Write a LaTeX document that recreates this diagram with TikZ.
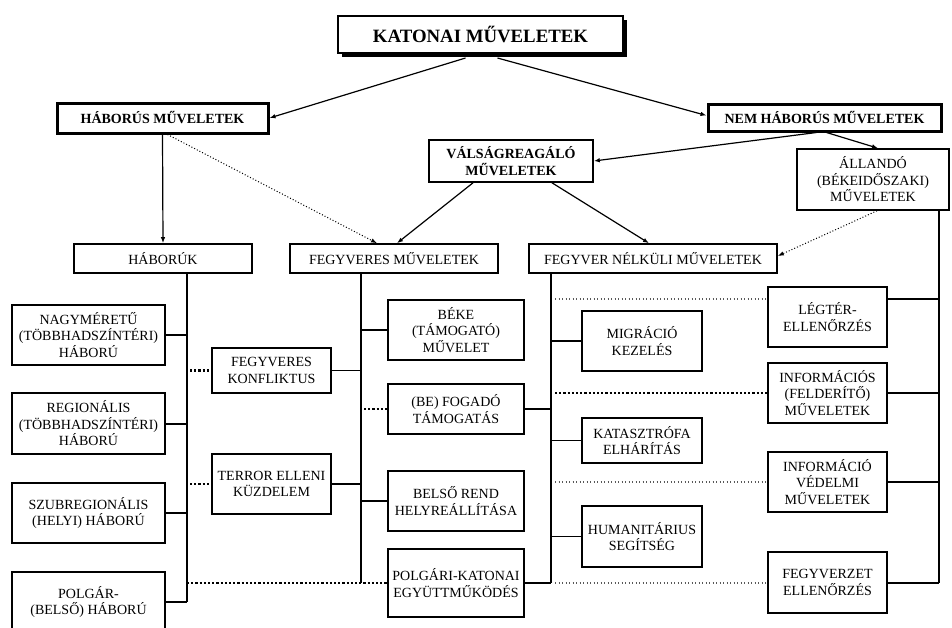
\documentclass[tikz,border=0pt]{standalone}
\usepackage{fontspec}
\setmainfont{Liberation Serif}
\usetikzlibrary{arrows.meta,shadows}
\begin{document}
\begin{tikzpicture}[x=1pt,y=-1pt,
  box/.style={draw, line width=1.6pt, fill=white, align=center, inner sep=0pt, font=\fontsize{14}{16.5}\selectfont},
  bbox/.style={box, font=\bfseries\fontsize{14}{16.5}\selectfont},
  conn/.style={line width=1.4pt},
  trunk/.style={line width=2pt},
  arr/.style={line width=1.2pt, -{Latex[length=6pt,width=4.5pt]}},
  darr/.style={line width=1pt, dash pattern=on 1pt off 2pt, -{Latex[length=6pt,width=4.5pt]}},
  tdot/.style={line width=2.4pt, dash pattern=on 2.2pt off 2pt},
  fdot/.style={line width=1.3pt, dash pattern=on 1.3pt off 2.2pt, black!65},
]
\useasboundingbox (0,0) rectangle (952,627);
\clip (0,0) rectangle (952,627);

% top level
\node[box, line width=2pt, minimum width=285pt, minimum height=37pt,
      font=\bfseries\fontsize{18.8}{22}\selectfont,
      drop shadow={shadow xshift=4pt, shadow yshift=-4pt, fill=black, opacity=1}]
      (kat) at (480.5,34.5) {KATONAI MŰVELETEK};
\node[bbox, line width=3pt, minimum width=211pt, minimum height=30pt] (habm) at (162.5,118) {HÁBORÚS MŰVELETEK};
\node[bbox, line width=3pt, minimum width=233pt, minimum height=27pt] (nem) at (824.5,117.5) {NEM HÁBORÚS MŰVELETEK};
\node[bbox, minimum width=164pt, minimum height=42pt] (vals) at (511,161) {VÁLSÁGREAGÁLÓ\\MŰVELETEK};
\node[box, minimum width=152pt, minimum height=61pt] (all) at (873,179.5) {ÁLLANDÓ\\(BÉKEIDŐSZAKI)\\MŰVELETEK};

% second row
\node[box, minimum width=178pt, minimum height=29pt] (hab) at (163,258.5) {HÁBORÚK};
\node[box, minimum width=208pt, minimum height=29pt] (fm) at (394,258.5) {FEGYVERES MŰVELETEK};
\node[box, minimum width=248pt, minimum height=29pt] (fnm) at (653,258.5) {FEGYVER NÉLKÜLI MŰVELETEK};

% left column
\node[box, line width=1.8pt, minimum width=153pt, minimum height=60pt] (nagy) at (88.5,335) {NAGYMÉRETŰ\\(TÖBBHADSZÍNTÉRI)\\HÁBORÚ};
\node[box, line width=1.8pt, minimum width=153pt, minimum height=61pt] (reg) at (88.5,423.5) {REGIONÁLIS\\(TÖBBHADSZÍNTÉRI)\\HÁBORÚ};
\node[box, line width=1.8pt, minimum width=153pt, minimum height=60pt] (szub) at (88.5,513) {SZUBREGIONÁLIS\\(HELYI) HÁBORÚ};
\node[box, line width=1.8pt, minimum width=153pt, minimum height=60pt] (polg) at (88.5,602) {POLGÁR-\\(BELSŐ) HÁBORÚ};

\node[box, minimum width=119pt, minimum height=45pt] (konf) at (271.5,370.5) {FEGYVERES\\KONFLIKTUS};
\node[box, minimum width=119pt, minimum height=60pt] (terr) at (271.5,484) {TERROR ELLENI\\KÜZDELEM};

% middle column
\node[box, minimum width=136pt, minimum height=60pt] (beke) at (456,330) {BÉKE\\(TÁMOGATÓ)\\MŰVELET};
\node[box, minimum width=136pt, minimum height=50pt] (fog) at (456,409) {(BE) FOGADÓ\\TÁMOGATÁS};
\node[box, minimum width=136pt, minimum height=60pt] (bels) at (456,501) {BELSŐ REND\\HELYREÁLLÍTÁSA};
\node[box, minimum width=136pt, minimum height=68pt] (polk) at (456,583) {POLGÁRI-KATONAI\\EGYÜTTMŰKÖDÉS};

\node[box, minimum width=120pt, minimum height=60pt] (migr) at (642,341) {MIGRÁCIÓ\\KEZELÉS};
\node[box, minimum width=120pt, minimum height=45pt] (kata) at (642,440.5) {KATASZTRÓFA\\ELHÁRÍTÁS};
\node[box, minimum width=120pt, minimum height=61pt] (hum) at (642,536.5) {HUMANITÁRIUS\\SEGÍTSÉG};

% right column
\node[box, minimum width=119pt, minimum height=60pt] (leg) at (827.5,317) {LÉGTÉR-\\ELLENŐRZÉS};
\node[box, minimum width=119pt, minimum height=60pt] (inf) at (827.5,393) {INFORMÁCIÓS\\(FELDERÍTŐ)\\MŰVELETEK};
\node[box, minimum width=119pt, minimum height=60pt] (ved) at (827.5,482) {INFORMÁCIÓ\\VÉDELMI\\MŰVELETEK};
\node[box, minimum width=119pt, minimum height=61pt] (fegyz) at (827.5,582.5) {FEGYVERZET\\ELLENŐRZÉS};

% arrows
\draw[arr] ([xshift=-15pt,yshift=-4pt]kat.south) -- (habm.east);
\draw[arr] ([xshift=17pt,yshift=-4pt]kat.south) -- ([yshift=2pt]nem.west);
\draw[arr] ([xshift=-8pt]nem.south) -- (vals.east);
\draw[arr] ([xshift=2pt]nem.south) -- ([xshift=5pt]all.north);
\draw[arr] (habm.south) -- (hab.north);
\draw[darr] ([xshift=5pt]habm.south) -- ([xshift=-17pt]fm.north);
\draw[arr] ([xshift=-38pt]vals.south) -- ([xshift=3pt]fm.north);
\draw[arr] ([xshift=41pt]vals.south) -- ([xshift=-4pt]fnm.north);
\draw[darr] ([xshift=4pt]all.south) -- ([yshift=2.5pt]fnm.east);

% trunks
\coordinate (t1) at (187,602);
\coordinate (t2) at (361,583);
\coordinate (t3) at (551,583);
\coordinate (t4) at (939,583);
\coordinate (r1) at (939,299);
\draw[trunk] (hab.south -| t1) -- (t1);
\draw[trunk] (fm.south -| t2) -- (t2);
\draw[trunk] (fnm.south -| t3) -- (t3);
\draw[trunk, line width=2.5pt] (all.south -| t4) -- (t4);

% solid connectors
\foreach \n in {nagy,reg,szub,polg} \draw[conn, line width=2pt] (\n) -- (\n -| t1);
\foreach \n in {konf,terr,beke,bels} \draw[conn] (\n) -- (\n -| t2);
\foreach \n in {fog,polk,migr,kata,hum} \draw[conn] (\n) -- (\n -| t3);
\draw[conn, line width=2pt] (r1 -| leg.east) -- (r1);
\foreach \n in {inf,ved,fegyz} \draw[conn, line width=2pt] (\n) -- (\n -| t4);

% dotted connectors
\draw[tdot] ([xshift=3pt]konf -| t1) -- (konf.west);
\draw[tdot] ([xshift=3pt]terr -| t1) -- (terr.west);
\draw[tdot] (polk -| t1) -- (polk.west);
\draw[tdot] ([xshift=3pt]fog -| t2) -- (fog.west);
\draw[fdot] ([xshift=4pt]r1 -| t3) -- (r1 -| leg.west);
\draw[tdot] ([xshift=4pt]inf -| t3) -- (inf.west);
\draw[fdot] ([xshift=4pt]ved -| t3) -- (ved.west);
\draw[fdot] ([xshift=4pt]polk -| t3) -- (polk -| fegyz.west);
\end{tikzpicture}
\end{document}
